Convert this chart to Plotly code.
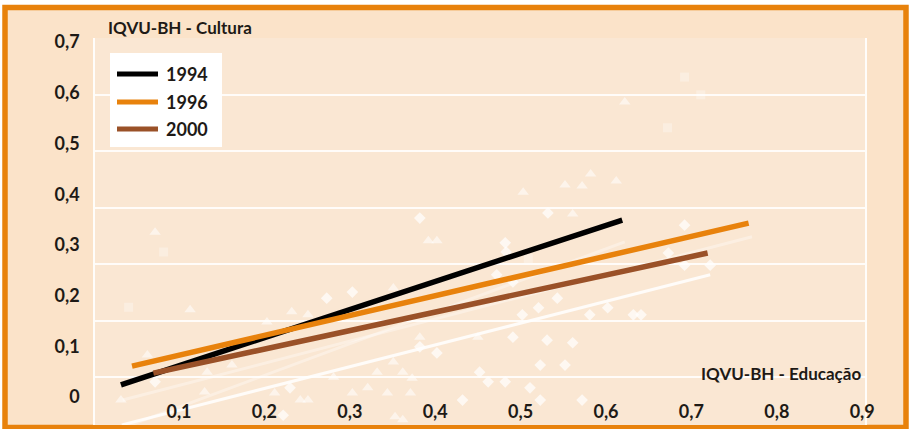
import plotly.graph_objects as go

# ---- data (in the chart's labelled coordinates) ----
series_names = ["1994", "1996", "2000"]
series_colors = ["#000000", "#E8820C", "#9A5128"]
line_x = [[0.032, 0.619], [0.045, 0.767], [0.070, 0.719]]
line_y = [[0.024, 0.349], [0.061, 0.343], [0.047, 0.284]]

# faint background regression lines
bg_line_x = [[0.033, 0.722], [0.034, 0.771], [0.034, 0.622]]
bg_line_y = [[-0.055, 0.241], [-0.006, 0.316], [-0.061, 0.306]]
bg_line_alpha = [0.85, 0.35, 0.35]

# faint background points
tri_x = [0.503, 0.552, 0.572, 0.582, 0.612, 0.561, 0.392, 0.402, 0.622, 0.072,
         0.113, 0.232, 0.063, 0.133, 0.162, 0.130, 0.032, 0.212, 0.242, 0.251,
         0.203, 0.251, 0.351, 0.382, 0.450, 0.351, 0.332, 0.362, 0.373, 0.303,
         0.344, 0.371, 0.353, 0.362, 0.281, 0.321]
tri_y = [0.404, 0.418, 0.416, 0.440, 0.426, 0.361, 0.308, 0.308, 0.582, 0.325,
         0.172, 0.168, 0.083, 0.049, 0.063, 0.010, -0.006, 0.008, -0.006, -0.006,
         0.148, 0.162, 0.215, 0.118, 0.118, 0.069, 0.049, 0.049, 0.037, 0.008,
         0.008, 0.008, -0.039, -0.045, 0.039, 0.018]
dia_x = [0.382, 0.532, 0.482, 0.303, 0.472, 0.491, 0.502, 0.491, 0.531, 0.521,
         0.543, 0.561, 0.523, 0.552, 0.452, 0.462, 0.482, 0.511, 0.523, 0.572,
         0.432, 0.402, 0.382, 0.581, 0.692, 0.673, 0.692, 0.722, 0.602, 0.632,
         0.641, 0.072, 0.230, 0.273, 0.222, 0.483]
dia_y = [0.353, 0.363, 0.304, 0.207, 0.241, 0.227, 0.162, 0.118, 0.112, 0.176,
         0.195, 0.107, 0.063, 0.063, 0.049, 0.030, 0.030, 0.018, -0.006, -0.006,
         -0.006, 0.087, 0.099, 0.162, 0.339, 0.284, 0.260, 0.260, 0.176, 0.162,
         0.162, 0.030, 0.018, 0.195, -0.036, 0.286]
sq_x = [0.692, 0.711, 0.672, 0.041, 0.082, 0.509]
sq_y = [0.631, 0.596, 0.531, 0.177, 0.286, 0.273]

x_ticks = [0.1, 0.2, 0.3, 0.4, 0.5, 0.6, 0.7, 0.8, 0.9]
x_tick_text = ["0,1", "0,2", "0,3", "0,4", "0,5", "0,6", "0,7", "0,8", "0,9"]
y_ticks = [0, 0.1, 0.2, 0.3, 0.4, 0.5, 0.6, 0.7]
y_tick_text = ["0", "0,1", "0,2", "0,3", "0,4", "0,5", "0,6", "0,7"]
grid_vals = [0.1, 0.2, 0.3, 0.4, 0.5, 0.6, 0.7]

y_title = "IQVU-BH - Cultura"
x_title = "IQVU-BH - Educação"

FONT = "Lato"
TXT = "#1E1A16"

fig = go.Figure()

# dummy trace to activate grid axis
fig.add_trace(go.Scatter(x=[None], y=[None], yaxis="y2", showlegend=False,
                         hoverinfo="skip"))

for bx, by, a in zip(bg_line_x, bg_line_y, bg_line_alpha):
    fig.add_trace(go.Scatter(x=bx, y=by, mode="lines", showlegend=False,
                             line=dict(color=f"rgba(255,255,255,{a})", width=3),
                             hoverinfo="skip"))

fig.add_trace(go.Scatter(x=sq_x, y=sq_y, mode="markers", showlegend=False,
                         marker=dict(symbol="square", size=9,
                                     color="rgba(255,255,255,0.3)"),
                         hoverinfo="skip"))
fig.add_trace(go.Scatter(x=tri_x, y=tri_y, mode="markers", showlegend=False,
                         marker=dict(symbol="triangle-up", size=10,
                                     color="rgba(255,255,255,0.55)"),
                         hoverinfo="skip"))
fig.add_trace(go.Scatter(x=dia_x, y=dia_y, mode="markers", showlegend=False,
                         marker=dict(symbol="diamond", size=9,
                                     color="rgba(255,255,255,0.7)"),
                         hoverinfo="skip"))

for name, col, lx, ly in zip(series_names, series_colors, line_x, line_y):
    fig.add_trace(go.Scatter(x=lx, y=ly, mode="lines", name=name,
                             line=dict(color=col, width=5.5), showlegend=False))

# plot geometry (pixels)
W, H = 910, 429
L, R, T, B = 95, 45, 38, 4
pw, ph = W - L - R, H - T - B


def px(x):
    return (x - L) / pw


def py(y):
    return (H - B - y) / ph


shapes = [
    # outer frame
    dict(type="rect", xref="paper", yref="paper", layer="below",
         x0=px(5), x1=px(906), y0=py(427.5), y1=py(7.5),
         fillcolor="#FBE3C9", line=dict(color="#E8820C", width=5.5)),
    # plot area
    dict(type="rect", xref="paper", yref="paper", layer="below",
         x0=0, x1=1, y0=py(425), y1=1,
         fillcolor="#FAE7D3", line=dict(width=0)),
    # legend box
    dict(type="rect", xref="paper", yref="paper",
         x0=px(110), x1=px(222), y0=py(147), y1=py(53),
         fillcolor="white", line=dict(width=0)),
]
annotations = [
    dict(text=y_title, xref="paper", yref="paper", x=px(106), y=py(27),
         xanchor="left", yanchor="middle", showarrow=False,
         font=dict(family=FONT, size=17, color=TXT, weight="bold")),
    dict(text=x_title, xref="paper", yref="paper", x=px(863), y=py(373),
         xanchor="right", yanchor="middle", showarrow=False,
         font=dict(family=FONT, size=17, color=TXT, weight="bold")),
]
leg_y = [74, 102, 129]
for name, col, yy in zip(series_names, series_colors, leg_y):
    shapes.append(dict(type="line", xref="paper", yref="paper",
                       x0=px(117), x1=px(158), y0=py(yy), y1=py(yy),
                       line=dict(color=col, width=5)))
    annotations.append(dict(text=name, xref="paper", yref="paper",
                            x=px(164), y=py(yy), xanchor="left",
                            yanchor="middle", showarrow=False,
                            font=dict(family=FONT, size=18, color=TXT,
                                      weight="bold")))

fig.update_layout(
    width=W, height=H,
    margin=dict(l=L, r=R, t=T, b=B),
    paper_bgcolor="white",
    plot_bgcolor="rgba(0,0,0,0)",
    showlegend=False,
    hovermode=False,
    shapes=shapes,
    annotations=annotations,
    xaxis=dict(range=[(L - 93.6) / 854, (L + pw - 93.6) / 854],
               tickvals=x_ticks, ticktext=x_tick_text, showgrid=False,
               zeroline=False, showline=False, ticks="",
               anchor="free", position=py(399),
               tickfont=dict(family=FONT, size=18, color=TXT, weight="bold")),
    yaxis=dict(range=[(397 - (H - B)) / 507, (397 - T) / 507],
               tickvals=y_ticks, ticktext=y_tick_text, showgrid=False,
               zeroline=False, ticks="", ticklabelstandoff=10,
               showline=True, linecolor="rgba(255,255,255,0.9)", linewidth=1.5,
               mirror=True,
               tickfont=dict(family=FONT, size=18, color=TXT, weight="bold")),
    yaxis2=dict(range=[0.1 - (H - B - 377) / 565, 0.1 + (377 - T) / 565],
                overlaying="y", tickvals=grid_vals, showticklabels=False,
                showgrid=True, gridcolor="rgba(255,255,255,0.85)", gridwidth=1.5,
                zeroline=False, ticks=""),
)

fig.write_html("out.html",
               config={"displayModeBar": False},
               post_script="document.body.style.margin='0';"
                           "document.body.style.overflow='hidden';")
